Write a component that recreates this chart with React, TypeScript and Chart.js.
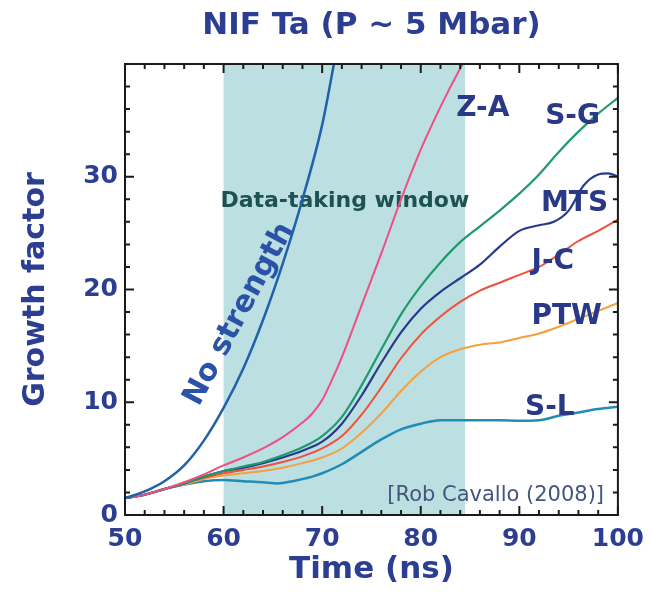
import React, { useEffect, useRef } from 'react';
import { Chart, registerables } from 'chart.js';

Chart.register(...registerables);

// ---- axis ticks ----
const xTicks = [50, 60, 70, 80, 90, 100];
const yTicks = [0, 10, 20, 30];
const xMin = 50;
const xMax = 100;
const yMin = 0;
const yMax = 40;
const minorStep = 2;

// ---- shaded data-taking window (ns) ----
const windowStart = 60;
const windowEnd = 84.5;

// ---- series (time in ns, growth factor) ----
const noStrengthT = [50, 52, 54, 56, 58, 60, 62, 64, 66, 68, 70, 71.3];
const noStrengthV = [1.5, 2.1, 3.0, 4.4, 6.6, 9.5, 13.0, 17.3, 22.3, 28.0, 34.6, 40.5];

const zaT = [50, 52, 54, 56, 58, 60, 62, 64, 66, 68, 69, 70, 71, 72, 74, 76, 78, 80, 82, 84, 84.6];
const zaV = [1.5, 1.8, 2.3, 2.9, 3.6, 4.4, 5.1, 5.9, 6.9, 8.2, 9.0, 10.2, 12.0, 14.0, 18.6, 23.2, 28.0, 32.4, 36.2, 39.6, 40.5];

const sgT = [50, 52, 54, 56, 58, 60, 62, 64, 66, 68, 70, 72, 74, 76, 78, 80, 82, 84, 86, 88, 90, 92, 94, 96, 98, 100];
const sgV = [1.5, 1.8, 2.3, 2.8, 3.4, 3.9, 4.3, 4.7, 5.3, 6.0, 7.0, 8.7, 11.5, 14.7, 17.8, 20.3, 22.4, 24.2, 25.6, 27.0, 28.5, 30.2, 32.2, 34.0, 35.6, 37.0];

const mtsT = [50, 52, 54, 56, 58, 60, 62, 64, 66, 68, 70, 72, 74, 76, 78, 80, 82, 84, 86, 88, 90, 92, 93.5, 95, 96.5, 98, 99, 100];
const mtsV = [1.5, 1.8, 2.3, 2.8, 3.4, 3.9, 4.2, 4.6, 5.1, 5.7, 6.5, 8.1, 10.6, 13.5, 16.2, 18.3, 19.8, 21.0, 22.2, 23.8, 25.2, 25.7, 26.0, 27.0, 29.2, 30.2, 30.3, 30.0];

const jcT = [50, 52, 54, 56, 58, 60, 62, 64, 66, 68, 70, 72, 74, 76, 78, 80, 82, 84, 86, 88, 90, 92, 94, 96, 98, 100];
const jcV = [1.5, 1.8, 2.3, 2.8, 3.3, 3.7, 4.0, 4.3, 4.7, 5.2, 5.9, 7.0, 8.9, 11.3, 13.9, 16.0, 17.6, 18.9, 19.9, 20.6, 21.3, 22.0, 23.1, 24.3, 25.2, 26.2];

const ptwT = [50, 52, 54, 56, 58, 60, 62, 64, 66, 68, 70, 72, 74, 76, 78, 80, 82, 84, 86, 88, 90, 92, 94, 96, 98, 100];
const ptwV = [1.5, 1.8, 2.3, 2.7, 3.2, 3.5, 3.7, 3.9, 4.2, 4.6, 5.1, 5.9, 7.3, 9.0, 11.0, 12.7, 14.0, 14.7, 15.1, 15.3, 15.7, 16.1, 16.7, 17.4, 18.1, 18.8];

const slT = [50, 52, 54, 56, 58, 60, 62, 64, 65.5, 67, 69, 70, 72, 74, 76, 78, 80, 82, 84, 86, 88, 90, 92, 94, 96, 98, 100];
const slV = [1.5, 1.8, 2.3, 2.7, 3.0, 3.1, 3.0, 2.9, 2.8, 3.0, 3.4, 3.7, 4.5, 5.6, 6.7, 7.6, 8.1, 8.4, 8.4, 8.4, 8.4, 8.35, 8.4, 8.8, 9.1, 9.4, 9.6];

const seriesNames = ['No strength', 'Z-A', 'S-G', 'MTS', 'J-C', 'PTW', 'S-L'];
const seriesTimes = [noStrengthT, zaT, sgT, mtsT, jcT, ptwT, slT];
const seriesValues = [noStrengthV, zaV, sgV, mtsV, jcV, ptwV, slV];

// ---- styling (kept apart from the data) ----
const seriesColors = ['#2160aa', '#ee4f80', '#1f9a6c', '#283a8c', '#f0503c', '#f5a040', '#1f8db5'];
const seriesWidths = [2.5, 2, 2.2, 2.2, 2, 2, 2.5];

const FONT = '"DejaVu Sans", "Liberation Sans", Arial, sans-serif';
const TEXT_BLUE = '#2c3e91';

// annotation texts, anchored in data coordinates
const seriesLabels = [
  { text: 'Z-A', t: 86.3, v: 36.0 },
  { text: 'S-G', t: 95.4, v: 35.3 },
  { text: 'MTS', t: 95.6, v: 27.6 },
  { text: 'J-C', t: 93.4, v: 22.5 },
  { text: 'PTW', t: 94.8, v: 17.6 },
  { text: 'S-L', t: 93.1, v: 9.5 },
];
const windowLabel = { text: 'Data-taking window', t: 72.3, v: 27.8 };
const noStrengthLabel = { text: 'No strength', t: 61.6, v: 17.8, angle: -62 };
const creditLabel = { text: '[Rob Cavallo (2008)]', t: 87.6, v: 1.7 };
const titleText = 'NIF Ta (P ~ 5 Mbar)';

const decorPlugin = {
  id: 'decor',
  beforeDatasetsDraw(chart: any) {
    const { ctx, chartArea: a, scales } = chart;
    const x = scales.x;
    const y = scales.y;
    const x0 = x.getPixelForValue(windowStart);
    const x1 = x.getPixelForValue(windowEnd);
    ctx.save();
    ctx.fillStyle = '#bcdfe2';
    ctx.fillRect(x0, a.top, x1 - x0, a.bottom - a.top);
    ctx.fillStyle = '#1d5152';
    ctx.font = `bold 22px ${FONT}`;
    ctx.textAlign = 'center';
    ctx.textBaseline = 'middle';
    ctx.fillText(windowLabel.text, x.getPixelForValue(windowLabel.t), y.getPixelForValue(windowLabel.v));
    ctx.restore();
  },
  afterDatasetsDraw(chart: any) {
    const { ctx, chartArea: a, scales } = chart;
    const x = scales.x;
    const y = scales.y;
    ctx.save();
    // series labels
    ctx.fillStyle = '#2a3888';
    ctx.font = `bold 28px ${FONT}`;
    ctx.textAlign = 'center';
    ctx.textBaseline = 'middle';
    for (const l of seriesLabels) {
      ctx.fillText(l.text, x.getPixelForValue(l.t), y.getPixelForValue(l.v));
    }
    // no strength rotated label
    ctx.save();
    ctx.translate(x.getPixelForValue(noStrengthLabel.t), y.getPixelForValue(noStrengthLabel.v));
    ctx.rotate((noStrengthLabel.angle * Math.PI) / 180);
    ctx.fillStyle = '#2a52a6';
    ctx.font = `bold 30px ${FONT}`;
    ctx.fillText(noStrengthLabel.text, 0, 0);
    ctx.restore();
    // credit
    ctx.fillStyle = '#44557e';
    ctx.font = `21px ${FONT}`;
    ctx.fillText(creditLabel.text, x.getPixelForValue(creditLabel.t), y.getPixelForValue(creditLabel.v));

    // frame
    ctx.strokeStyle = '#1a1a1a';
    ctx.lineWidth = 2;
    ctx.strokeRect(a.left, a.top, a.right - a.left, a.bottom - a.top);
    // inward ticks
    ctx.lineWidth = 2;
    ctx.beginPath();
    for (let v = xMin; v <= xMax + 1e-9; v += minorStep) {
      const px = x.getPixelForValue(v);
      const len = v % 10 === 0 ? 9 : 5;
      ctx.moveTo(px, a.bottom);
      ctx.lineTo(px, a.bottom - len);
      ctx.moveTo(px, a.top);
      ctx.lineTo(px, a.top + len);
    }
    for (let v = yMin; v <= yMax + 1e-9; v += minorStep) {
      const py = y.getPixelForValue(v);
      const len = v % 10 === 0 ? 9 : 5;
      ctx.moveTo(a.left, py);
      ctx.lineTo(a.left + len, py);
      ctx.moveTo(a.right, py);
      ctx.lineTo(a.right - len, py);
    }
    ctx.stroke();

    // title, centred over the plot area
    ctx.fillStyle = TEXT_BLUE;
    ctx.font = `bold 31px ${FONT}`;
    ctx.textAlign = 'center';
    ctx.textBaseline = 'middle';
    ctx.fillText(titleText, (a.left + a.right) / 2, 26);
    ctx.restore();
  },
};

export default function App() {
  const ref = useRef<HTMLCanvasElement | null>(null);

  useEffect(() => {
    if (!ref.current) return;
    const datasets = seriesNames.map((name, i) => ({
      label: name,
      data: seriesTimes[i].map((t, j) => ({ x: t, y: seriesValues[i][j] })),
      borderColor: seriesColors[i],
      backgroundColor: seriesColors[i],
      borderWidth: seriesWidths[i],
      pointRadius: 0,
      fill: false,
      cubicInterpolationMode: 'monotone' as const,
    }));

    const chart = new Chart(ref.current, {
      type: 'line',
      data: { datasets },
      options: {
        animation: false,
        responsive: false,
        devicePixelRatio: 1,
        layout: { padding: { top: 64, right: 35, left: 0, bottom: 0 } },
        plugins: {
          legend: { display: false },
          tooltip: { enabled: false },
          title: { display: false },
        },
        scales: {
          x: {
            type: 'linear',
            min: xMin,
            max: xMax,
            afterBuildTicks: (s: any) => {
              s.ticks = xTicks.map((v) => ({ value: v }));
            },
            afterFit: (s: any) => {
              s.height = 85;
            },
            grid: { display: false, drawTicks: false },
            border: { display: false },
            ticks: {
              padding: 9,
              color: TEXT_BLUE,
              font: { family: FONT, size: 25, weight: 'bold' },
              maxRotation: 0,
            },
            title: {
              display: true,
              text: 'Time (ns)',
              color: TEXT_BLUE,
              font: { family: FONT, size: 31, weight: 'bold' },
              padding: { top: 0, bottom: 11 },
            },
          },
          y: {
            type: 'linear',
            min: yMin,
            max: yMax,
            afterBuildTicks: (s: any) => {
              s.ticks = yTicks.map((v) => ({ value: v }));
            },
            afterFit: (s: any) => {
              s.width = 125;
            },
            grid: { display: false, drawTicks: false },
            border: { display: false },
            ticks: {
              padding: 7,
              color: TEXT_BLUE,
              font: { family: FONT, size: 25, weight: 'bold' },
            },
            title: {
              display: true,
              text: 'Growth factor',
              color: TEXT_BLUE,
              font: { family: FONT, size: 30, weight: 'bold' },
              padding: { top: 18, bottom: 0 },
            },
          },
        },
      },
      plugins: [decorPlugin],
    });
    return () => chart.destroy();
  }, []);

  return (
    <div style={{ position: 'absolute', left: 0, top: 0, width: 653, height: 600, background: '#ffffff' }}>
      <canvas ref={ref} width={653} height={600} style={{ display: 'block' }} />
    </div>
  );
}
